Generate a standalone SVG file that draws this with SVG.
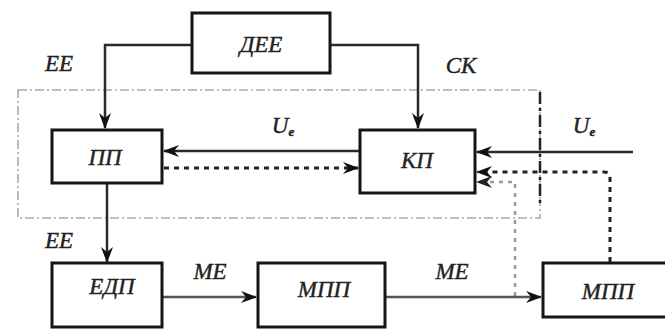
<svg xmlns="http://www.w3.org/2000/svg" width="665" height="330" viewBox="0 0 665 330">
  <defs>
    <marker id="arr" markerUnits="userSpaceOnUse" markerWidth="16" markerHeight="12" refX="15" refY="6" orient="auto">
      <path d="M0,0 L16,6 L0,12 L5,6 Z" fill="#111"/>
    </marker>
    <marker id="arrGray" markerUnits="userSpaceOnUse" markerWidth="16" markerHeight="12" refX="15" refY="6" orient="auto">
      <path d="M0,0 L16,6 L0,12 L5,6 Z" fill="#222"/>
    </marker>
    <style>
      .box { fill: #fff; stroke: #151515; stroke-width: 3; }
      .lbl { font-family: "Liberation Serif", "DejaVu Serif", serif; font-style: italic; font-size: 23px; fill: #222; stroke: #222; stroke-width: 0.4; text-anchor: middle; }
      .sub { font-size: 13px; font-weight: bold; }
      .solid { fill: none; stroke: #2a2a2a; stroke-width: 2.5; }
      .grey { fill: none; stroke: #555; stroke-width: 2.5; }
      .dots { fill: none; stroke: #222; stroke-width: 3; stroke-dasharray: 5 5; }
      .ldots { fill: none; stroke: #999; stroke-width: 2.5; stroke-dasharray: 4 5; }
      .frame { fill: none; stroke: #aaa; stroke-width: 1.6; stroke-dasharray: 9 3 2 3; }
      .frameR { fill: none; stroke: #222; stroke-width: 2.5; stroke-dasharray: 12 4 3 4; }
    </style>
  </defs>

  <!-- system boundary (dash-dot) -->
  <g id="boundary">
    <rect class="frame" x="18" y="90" width="522" height="128"/>
    <line class="frameR" x1="540" y1="92" x2="540" y2="205"/>
  </g>

  <!-- connectors -->
  <g id="connectors">
    <!-- ДЕЕ to ПП (ЕЕ) and to КП (СК) -->
    <polyline class="solid" points="192,45 105,45 105,128" marker-end="url(#arr)"/>
    <polyline class="solid" points="330,45 418,45 418,128" marker-end="url(#arr)"/>
    <!-- КП to ПП, U -->
    <line class="solid" x1="360" y1="151" x2="164" y2="151" marker-end="url(#arr)"/>
    <!-- ПП to КП, dotted -->
    <line class="dots" x1="164" y1="168" x2="358" y2="168" marker-end="url(#arr)"/>
    <!-- external U input to КП -->
    <line class="solid" x1="633" y1="152" x2="477" y2="152" marker-end="url(#arr)"/>
    <!-- МПП feedback to КП -->
    <path class="dots" d="M610,262 L610,178 Q610,172 604,172 L477,172" marker-end="url(#arr)"/>
    <!-- ME tap feedback to КП -->
    <polyline class="ldots" points="515,296 515,182 477,182" marker-end="url(#arrGray)"/>
    <!-- ПП to ЕДП (ЕЕ) -->
    <line class="solid" x1="107" y1="184" x2="107" y2="262" marker-end="url(#arr)"/>
    <!-- ЕДП to МПП to МПП (МЕ) -->
    <line class="grey" x1="163" y1="297" x2="256" y2="297" marker-end="url(#arr)"/>
    <line class="grey" x1="386" y1="297" x2="541" y2="297" marker-end="url(#arr)"/>
  </g>

  <g id="dee">
    <rect class="box" x="192" y="13" width="138" height="60"/>
    <text class="lbl" x="261" y="52">ДЕЕ</text>
  </g>
  <g id="pp">
    <rect class="box" x="52" y="130" width="110" height="53"/>
    <text class="lbl" x="105" y="165">ПП</text>
  </g>
  <g id="kp">
    <rect class="box" x="360" y="130" width="115" height="63"/>
    <text class="lbl" x="417" y="168">КП</text>
  </g>
  <g id="edp">
    <rect class="box" x="52" y="263" width="110" height="64"/>
    <text class="lbl" x="112" y="294">ЕДП</text>
  </g>
  <g id="mpp1">
    <rect class="box" x="258" y="263" width="127" height="64"/>
    <text class="lbl" x="324" y="297">МПП</text>
  </g>
  <g id="mpp2">
    <rect class="box" x="543" y="263" width="126" height="54"/>
    <text class="lbl" x="608" y="299">МПП</text>
  </g>

  <!-- connector labels -->
  <g id="labels">
    <text class="lbl" x="59" y="71">ЕЕ</text>
    <text class="lbl" x="461" y="73">СК</text>
    <text class="lbl" x="59" y="248">ЕЕ</text>
    <text class="lbl" x="283" y="133">U<tspan class="sub" dy="3">e</tspan></text>
    <text class="lbl" x="584" y="133">U<tspan class="sub" dy="3">e</tspan></text>
    <text class="lbl" x="210" y="279">МЕ</text>
    <text class="lbl" x="452" y="279">МЕ</text>
  </g>
</svg>
